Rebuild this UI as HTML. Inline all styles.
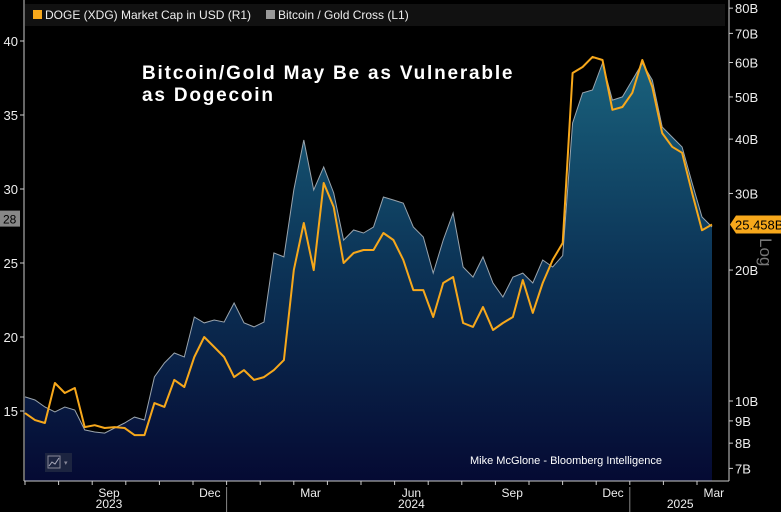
<!DOCTYPE html>
<html><head><meta charset="utf-8"><style>
html,body{margin:0;padding:0;background:#000;}
#wrap{position:relative;width:781px;height:512px;overflow:hidden;background:#000;font-family:"Liberation Sans",sans-serif;}
svg{position:absolute;left:0;top:0;}
</style></head><body>
<div id="wrap">
<svg id="chart" width="781" height="512">
  <defs>
    <linearGradient id="areaGrad" gradientUnits="userSpaceOnUse" x1="0" y1="40" x2="0" y2="481">
      <stop offset="0" stop-color="#1b6680"/>
      <stop offset="0.5" stop-color="#0c3558"/>
      <stop offset="1" stop-color="#050a33"/>
    </linearGradient>
  </defs>
  <rect x="25" y="4" width="700" height="22" fill="#111"/>
  <rect x="33" y="10" width="9" height="9" fill="#f7a81b"/>
  <text x="45" y="19" fill="#eee" font-size="12">DOGE (XDG) Market Cap in USD (R1)</text>
  <rect x="266" y="10" width="9" height="9" fill="#999"/>
  <text x="278" y="19" fill="#eee" font-size="12">Bitcoin / Gold Cross (L1)</text>
  <g id="plot"></g>
  <text x="142" y="79" fill="#fff" font-size="19" font-weight="bold" letter-spacing="1.8">Bitcoin/Gold May Be as Vulnerable</text>
  <text x="142" y="101" fill="#fff" font-size="19" font-weight="bold" letter-spacing="1.8">as Dogecoin</text>
  <text x="470" y="464" fill="#fff" font-size="11">Mike McGlone - Bloomberg Intelligence</text>
  <rect x="45" y="453" width="27" height="19" fill="#1c2440"/>
  <rect x="48" y="456" width="12" height="12" fill="none" stroke="#889" stroke-width="1"/>
  <polyline points="49,466 52,462 55,464 59,458" fill="none" stroke="#aab" stroke-width="1"/>
  <text x="64" y="465" fill="#889" font-size="7">▾</text>
  <text x="760" y="238" fill="#777" font-size="17" transform="rotate(90 760 238)">Log</text>
</svg>
</div>
<script>
const greyVals=[15.95,15.74,15.27,14.93,15.27,15.07,13.72,13.58,13.51,13.85,14.19,14.59,14.39,17.30,18.24,18.92,18.65,21.35,20.95,21.15,21.01,22.30,20.95,20.68,21.01,25.68,25.41,29.93,33.31,29.93,31.49,29.73,26.55,27.23,27.03,27.43,29.46,29.26,29.05,27.43,26.76,24.32,26.55,28.38,24.73,24.05,25.41,23.65,22.70,24.05,24.32,23.65,25.20,24.73,25.5,34.46,36.49,36.69,38.51,36.01,36.22,37.36,38.51,37.36,34.19,33.51,32.84,30.41,28.11,27.43];
const dogeVals=[9.38,9.04,8.90,11.0,10.43,10.71,8.71,8.80,8.67,8.71,8.67,8.35,8.35,9.89,9.69,11.18,10.77,12.62,14.03,13.31,12.62,11.35,11.78,11.18,11.35,11.78,12.42,20.0,25.66,20.0,31.71,27.93,20.76,21.89,22.24,22.24,24.33,23.45,21.10,17.99,17.99,15.60,18.68,19.28,15.11,14.80,16.45,14.56,15.11,15.60,18.97,15.94,18.68,21.10,23.08,56.75,58.6,61.8,60.8,46.7,47.4,51.1,60.8,52.7,41.3,38.4,37.2,30.08,24.7,25.458];
const leftTicks=[15,20,25,30,35,40];
const rightTicks=[7,8,9,10,20,30,40,50,60,70,80];
const monthLabels=["Jul","Aug","Sep","Oct","Nov","Dec","Jan","Feb","Mar","Apr","May","Jun","Jul","Aug","Sep","Oct","Nov","Dec","Jan","Feb","Mar"];
const shownMonths=["Sep","Dec","Mar","Jun"];
const yearLabels=[{t:"2023",m:2},{t:"2024",m:11},{t:"2025",m:19}];

const NS="http://www.w3.org/2000/svg";
const svg=document.getElementById('chart');
const plot=document.getElementById('plot');
const X0=25,X1=712,PB=481;
const xS=i=>X0+i*(X1-X0)/(greyVals.length-1);
const yL=v=>41+(40-v)*14.8;
const yR=v=>401-(Math.log10(v)-1)*435;
const mX=m=>25+m*33.6;
function mk(tag,attrs,parent){const e=document.createElementNS(NS,tag);for(const k in attrs)e.setAttribute(k,attrs[k]);(parent||svg).appendChild(e);return e;}

let d=`M${X0},${PB}`;
greyVals.forEach((v,i)=>{d+=` L${xS(i).toFixed(1)},${yL(v).toFixed(1)}`;});
d+=` L${X1},${PB} Z`;
const area=mk('path',{d:d,fill:'url(#areaGrad)'},plot);


const gl=mk('polyline',{points:greyVals.map((v,i)=>xS(i).toFixed(1)+','+yL(v).toFixed(1)).join(' '),fill:'none',stroke:'#9aa4ad','stroke-width':1},plot);


const ol=mk('polyline',{points:dogeVals.map((v,i)=>xS(i).toFixed(1)+','+yR(v).toFixed(1)).join(' '),fill:'none',stroke:'#f7a81b','stroke-width':2,'stroke-linejoin':'round'},plot);



const la=mk('line',{x1:24,y1:0,x2:24,y2:PB,stroke:'#ccc','stroke-width':1});


leftTicks.forEach(v=>{
  mk('line',{x1:20,y1:yL(v),x2:24,y2:yL(v),stroke:'#ccc'});
  const t=mk('text',{x:18,y:yL(v)+5,fill:'#eee','font-size':13,'text-anchor':'end'});
  t.textContent=v;
  
  
});
const lb=mk('rect',{x:0,y:yL(28)-8,width:20,height:16,fill:'#888'});


const lbt=mk('text',{x:3,y:yL(28)+5,fill:'#000','font-size':12});
lbt.textContent='28';

const ra=mk('line',{x1:729,y1:0,x2:729,y2:PB,stroke:'#ccc'});


rightTicks.forEach(v=>{
  mk('line',{x1:729,y1:yR(v),x2:733,y2:yR(v),stroke:'#ccc'});
  const t=mk('text',{x:735,y:yR(v)+5,fill:'#eee','font-size':13});
  t.textContent=v+'B';
  
  
});
const last=dogeVals[dogeVals.length-1];
const by=yR(last);
const rb=mk('path',{d:`M730,${by} L736,${by-9} L781,${by-9} L781,${by+9} L736,${by+9} Z`,fill:'#f7a81b'});


const rbt=mk('text',{x:735,y:by+5,fill:'#000','font-size':13});
rbt.textContent=last.toFixed(3)+'B';

const ba=mk('line',{x1:24,y1:PB,x2:729,y2:PB,stroke:'#ccc'});


monthLabels.forEach((m,k)=>{
  const x=mX(k);
  if(x<=726) mk('line',{x1:x,y1:PB,x2:x,y2:PB+4,stroke:'#ccc'});
  if(shownMonths.includes(m)&&k>=2){
    const t=mk('text',{x:x+16.8,y:PB+16,fill:'#eee','font-size':12,'text-anchor':'middle'});
    t.textContent=m;
    
    
  }
});
[6,18].forEach(k=>mk('line',{x1:mX(k),y1:PB+6,x2:mX(k),y2:512,stroke:'#888'}));
yearLabels.forEach(o=>{
  const t=mk('text',{x:mX(o.m)+16.8,y:PB+27,fill:'#eee','font-size':12,'text-anchor':'middle'});
  t.textContent=o.t;
  
  
});
</script>
</body></html>
